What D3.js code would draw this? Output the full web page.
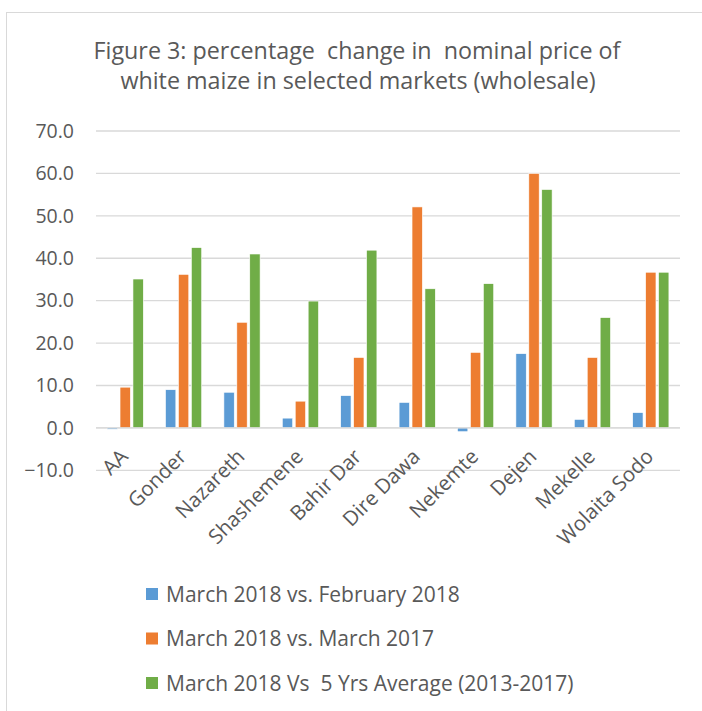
<!DOCTYPE html>
<html>
<head>
<meta charset="utf-8">
<script src="https://cdn.jsdelivr.net/npm/d3@7"></script>
<style>
  body { margin: 0; background: #fff; }
  text { font-family: "Open Sans", "Noto Sans", sans-serif; fill: #595959; }
</style>
</head>
<body>
<svg width="702" height="711"></svg>
<script>
const markets = ["AA", "Gonder", "Nazareth", "Shashemene", "Bahir Dar", "Dire Dawa", "Nekemte", "Dejen", "Mekelle", "Wolaita Sodo"];
const seriesNames = ["March 2018 vs. February 2018", "March 2018 vs. March 2017", "March 2018 Vs  5 Yrs Average (2013-2017)"];
const vsFeb2018 = [-0.3, 9.0, 8.4, 2.3, 7.6, 6.0, -0.9, 17.5, 2.0, 3.6];
const vsMar2017 = [9.6, 36.2, 24.9, 6.3, 16.6, 52.1, 17.8, 60.0, 16.6, 36.7];
const vs5YrAvg = [35.1, 42.5, 41.0, 29.9, 41.9, 32.8, 34.0, 56.2, 26.0, 36.7];
const yTicks = [-10, 0, 10, 20, 30, 40, 50, 60, 70];
const colors = ["#5B9BD5", "#ED7D31", "#70AD47"];

const svg = d3.select("svg"),
      margin = {top: 131, left: 96, right: 22},
      width = 702 - margin.left - margin.right,
      height = 470.3 - margin.top;

// chart frame
svg.append("rect")
    .attr("x", 6.5).attr("y", 12.5)
    .attr("width", 720).attr("height", 720)
    .attr("fill", "none").attr("stroke", "#d9d9d9").attr("stroke-width", 1);

// title
const title = svg.append("text")
    .attr("text-anchor", "middle")
    .attr("font-size", 23.3)
    .style("white-space", "pre");
title.append("tspan").attr("x", 357).attr("y", 59).text("Figure 3: percentage  change in  nominal price of");
title.append("tspan").attr("x", 358).attr("y", 89).text("white maize in selected markets (wholesale)");

const g = svg.append("g")
    .attr("transform", `translate(${margin.left},${margin.top})`);

const y = d3.scaleLinear().domain([-10, 70]).range([height, 0]);

const x0 = d3.scaleBand().domain(markets).range([0, width])
    .paddingInner(0.38).paddingOuter(0.19);
const x1 = d3.scaleBand().domain([0, 1, 2]).range([0, x0.bandwidth()]).padding(0.2).paddingOuter(0);

// gridlines
g.append("g")
  .selectAll("line")
  .data(yTicks)
  .join("line")
    .attr("x1", 0).attr("x2", width)
    .attr("y1", d => y(d)).attr("y2", d => y(d))
    .attr("stroke", "#d9d9d9").attr("stroke-width", 1.3);

// y axis labels
const yAxis = g.append("g")
    .call(d3.axisLeft(y).tickValues(yTicks).tickFormat(d3.format(".1f")).tickSize(0).tickPadding(22));
yAxis.select(".domain").remove();
yAxis.selectAll("text")
    .attr("font-size", 19.5)
    .attr("fill", "#595959")
    .style("font-family", "'Open Sans', sans-serif");

// bars
const data = markets.map((m, i) => ({market: m, values: [vsFeb2018[i], vsMar2017[i], vs5YrAvg[i]]}));

g.append("g")
  .selectAll("g")
  .data(data)
  .join("g")
    .attr("transform", d => `translate(${x0(d.market)},0)`)
  .selectAll("rect")
  .data(d => d.values.map((v, k) => ({k, v})))
  .join("rect")
    .attr("x", d => x1(d.k))
    .attr("width", x1.bandwidth())
    .attr("y", d => y(Math.max(0, d.v)))
    .attr("height", d => Math.abs(y(d.v) - y(0)))
    .attr("fill", d => colors[d.k])
    .attr("stroke", "#fff").attr("stroke-width", 0.6);

// zero line on top
g.append("line")
    .attr("x1", 0).attr("x2", width)
    .attr("y1", y(0)).attr("y2", y(0))
    .attr("stroke", "#d9d9d9").attr("stroke-width", 1.3);

// x labels, rotated
g.append("g")
  .selectAll("text")
  .data(markets)
  .join("text")
    .attr("font-size", 20.5)
    .attr("text-anchor", "end")
    .attr("transform", d => `translate(${x0(d) + x0.bandwidth() / 2 + 4},${y(0) + 30}) rotate(-45)`)
    .text(d => d);

// legend
const legend = svg.append("g")
  .selectAll("g")
  .data(seriesNames)
  .join("g")
    .attr("transform", (d, i) => `translate(146,${588 + i * 44.5})`);

legend.append("rect")
    .attr("width", 12).attr("height", 12)
    .attr("fill", (d, i) => colors[i]);

legend.append("text")
    .attr("x", 20).attr("y", 13.5)
    .attr("font-size", 21)
    .style("white-space", "pre")
    .text(d => d);
</script>
</body>
</html>
